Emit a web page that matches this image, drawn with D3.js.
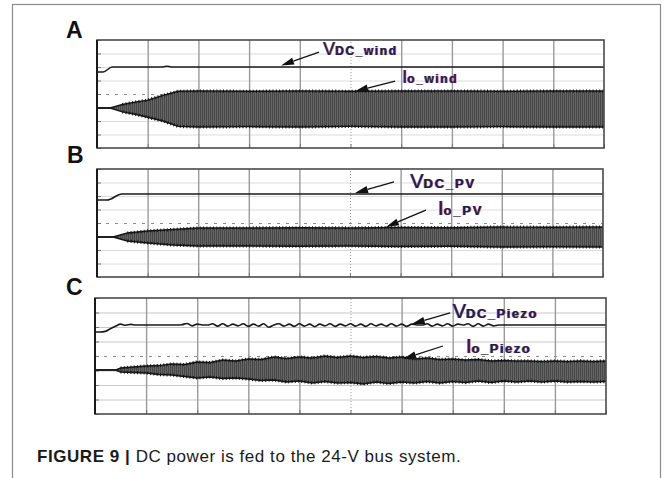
<!DOCTYPE html>
<html>
<head>
<meta charset="utf-8">
<script src="https://cdn.jsdelivr.net/npm/d3@7/dist/d3.min.js"></script>
<style>
  html, body { margin: 0; padding: 0; background: #fff; }
  svg { display: block; }
  .ann { text-shadow: 0.9px 0 rgba(255,122,26,0.85), -0.7px 0 rgba(42,108,255,0.8); }
</style>
</head>
<body>
<svg id="fig" width="664" height="478"></svg>
<script>
// Scope screens: time in divisions (10 across), amplitude in divisions (8 tall, 0 = centre line)
const gridX = [0, 1, 2, 3, 4, 5, 6, 7, 8, 9, 10];
const gridY = [-4, -3, -2, -1, 0, 1, 2, 3, 4];

// A - wind
const vWindT = [0, 0.12, 0.3, 1.3, 1.38, 1.46, 10];
const vWind = [1.63, 1.63, 2.0, 2.0, 2.06, 2.0, 2.0];
const iWindT = [0, 0.26, 0.5, 0.75, 1, 1.3, 1.6, 2, 3, 4, 5, 6, 7, 8, 9, 10];
const iWindHi = [-1.04, -1.04, -0.78, -0.6, -0.45, -0.1, 0.2, 0.22, 0.2, 0.22, 0.2, 0.22, 0.22, 0.2, 0.22, 0.22];
const iWindLo = [-1.04, -1.04, -1.32, -1.5, -1.72, -2.0, -2.4, -2.44, -2.42, -2.44, -2.4, -2.44, -2.44, -2.42, -2.44, -2.44];

// B - PV
const vPvT = [0, 0.2, 0.49, 10];
const vPv = [1.7, 1.7, 2.15, 2.15];
const iPvT = [0, 0.32, 0.6, 1, 1.5, 2, 3, 4, 5, 6, 7, 8, 9, 10];
const iPvHi = [-1.04, -1.04, -0.74, -0.59, -0.48, -0.37, -0.37, -0.35, -0.37, -0.33, -0.35, -0.3, -0.32, -0.3];
const iPvLo = [-1.04, -1.04, -1.33, -1.48, -1.63, -1.7, -1.7, -1.72, -1.7, -1.74, -1.72, -1.78, -1.76, -1.78];

const vPiezoStep = 0.1;
const vPiezo = [
  1.66, 1.66, 1.70, 1.88, 2.05, 2.20, 2.12, 2.18, 2.14, 2.14,
  2.14, 2.14, 2.14, 2.14, 2.14, 2.14, 2.14, 2.16, 2.24, 2.08,
  2.20, 2.14, 2.14, 2.22, 2.06, 2.22, 2.06, 2.20, 2.08, 2.22,
  2.04, 2.20, 2.06, 2.22, 1.98, 2.14, 2.22, 2.06, 2.20, 2.04,
  2.22, 2.06, 2.20, 2.02, 2.20, 2.08, 2.22, 2.04, 2.20, 2.08,
  2.22, 2.06, 2.20, 2.04, 2.22, 2.08, 2.20, 2.06, 2.22, 2.06,
  2.20, 2.04, 2.20, 2.14, 2.14, 2.22, 2.06, 2.20, 2.08, 2.22,
  2.06, 2.20, 2.14, 2.22, 2.04, 2.22, 2.06, 2.20, 2.08, 2.14,
  2.14, 2.14, 2.14, 2.14, 2.14, 2.14, 2.14, 2.14, 2.14, 2.14,
  2.14, 2.14, 2.14, 2.14, 2.14, 2.14, 2.14, 2.14, 2.14, 2.14, 2.14
];
const iPiezoT = [0, 0.4, 0.5, 0.75, 1, 1.25, 1.5, 1.75, 2, 2.25, 2.5, 2.75, 3, 3.25, 3.5, 3.75, 4, 4.25, 4.5, 4.75,
  5, 5.25, 5.5, 5.75, 6, 6.25, 6.5, 6.75, 7, 7.25, 7.5, 7.75, 8, 8.25, 8.5, 8.75, 9, 9.25, 9.5, 9.75, 10];
const iPiezoHi = [-0.97, -0.97, -0.83, -0.76, -0.69, -0.66, -0.55, -0.59, -0.41, -0.45, -0.28, -0.34, -0.21, -0.24,
  -0.07, -0.17, -0.07, -0.14, 0, -0.10, 0, -0.10, -0.03, -0.14, -0.07, -0.21, -0.14, -0.24, -0.21, -0.28,
  -0.24, -0.34, -0.31, -0.34, -0.34, -0.38, -0.34, -0.38, -0.34, -0.38, -0.34];
const iPiezoLo = [-0.97, -0.97, -1.10, -1.14, -1.17, -1.28, -1.31, -1.41, -1.52, -1.45, -1.55, -1.52, -1.59, -1.69,
  -1.66, -1.79, -1.72, -1.86, -1.76, -1.86, -1.83, -1.93, -1.79, -1.90, -1.79, -1.86, -1.76, -1.86, -1.76, -1.83,
  -1.72, -1.83, -1.72, -1.79, -1.72, -1.79, -1.72, -1.79, -1.76, -1.79, -1.76];

// Trace labels: [letter, subscript]
const labelsA = [["V", "DC_wind"], ["I", "o_wind"]];
const labelsB = [["V", "DC_PV"], ["I", "o_PV"]];
const labelsC = [["V", "DC_Piezo"], ["I", "o_Piezo"]];

const svg = d3.select("#fig");
const FONT = "'Liberation Sans', Arial, Helvetica, sans-serif";

// oscillation texture for the dense current waveform
const defs = svg.append("defs");
const pat = defs.append("pattern").attr("id", "osc").attr("patternUnits", "userSpaceOnUse")
  .attr("width", 2).attr("height", 4);
pat.append("rect").attr("width", 2).attr("height", 4).attr("fill", "#656565");
pat.append("rect").attr("width", 1).attr("height", 4).attr("fill", "#484848");

// outer figure border
svg.append("rect")
  .attr("x", 12.5).attr("y", 4.5).attr("width", 648).attr("height", 520)
  .attr("fill", "none").attr("stroke", "#8a8a8a").attr("stroke-width", 1.2);

const panels = [
  { key: "A", box: [97, 604, 40, 148], lab: [66, 38],
    vT: vWindT, v: vWind, iT: iWindT, hi: iWindHi, lo: iWindLo, labels: labelsA, size: [18, 12, 1.6],
    // [text t, text div, tail t, tail div, tip t, tip div]
    ann: [[4.46, 2.89, 4.38, 3.1, 3.63, 2.12], [6.02, 0.81, 5.88, 0.96, 5.09, 0.2]] },
  { key: "B", box: [97, 603, 169, 277], lab: [67, 163],
    vT: vPvT, v: vPv, iT: iPvT, hi: iPvHi, lo: iPvLo, labels: labelsB, size: [20, 13, 1.8],
    ann: [[6.19, 2.59, 5.87, 3.04, 5.1, 2.22], [6.74, 0.59, 6.5, 0.96, 5.71, -0.3]] },
  { key: "C", box: [95, 606, 298, 414], lab: [66, 295],
    vT: vPiezo.map((d, i) => i * vPiezoStep), v: vPiezo, iT: iPiezoT, hi: iPiezoHi, lo: iPiezoLo, labels: labelsC, size: [20, 13, 1.5],
    ann: [[7.0, 2.62, 6.95, 2.97, 6.2, 2.2], [7.26, 0.21, 6.81, 0.69, 6.03, -0.2]] }
];

panels.forEach(p => {
  const [x0, x1, y0, y1] = p.box;
  const x = d3.scaleLinear().domain([0, 10]).range([x0, x1]);
  const y = d3.scaleLinear().domain([-4, 4]).range([y1, y0]);
  const g = svg.append("g");

  // horizontal grid
  g.append("g")
    .attr("transform", `translate(${x0},0)`)
    .call(d3.axisLeft(y).tickValues(gridY.slice(1, -1)).tickSize(-(x1 - x0)).tickFormat(""))
    .call(s => s.select(".domain").remove())
    .selectAll("line")
    .attr("stroke", d => d === 0 ? "#8c8c8c" : (p.key === "C" ? "#c8c8c8" : "#dcdcdc"))
    .attr("stroke-width", d => d === 0 ? 1.2 : 1)
    .attr("stroke-dasharray", d => d === 0 ? "3,6" : null);

  // vertical grid
  g.append("g")
    .attr("transform", `translate(0,${y1})`)
    .call(d3.axisBottom(x).tickValues(gridX.slice(1, -1)).tickSize(-(y1 - y0)).tickFormat(""))
    .call(s => s.select(".domain").remove())
    .selectAll("line")
    .attr("stroke", "#9a9a9a")
    .attr("stroke-width", d => d === 5 ? 1 : 1.4)
    .attr("stroke-dasharray", d => d === 5 ? "1,2" : null);

  // small ticks on the left and bottom edges
  g.append("g")
    .attr("transform", `translate(${x0},0)`)
    .call(d3.axisRight(y).tickValues(gridY).tickSize(4).tickFormat(""))
    .call(s => s.select(".domain").remove())
    .selectAll("line").attr("stroke", "#777");
  g.append("g")
    .attr("transform", `translate(0,${y1})`)
    .call(d3.axisTop(x).tickValues(gridX).tickSize(4).tickFormat(""))
    .call(s => s.select(".domain").remove())
    .selectAll("line").attr("stroke", "#777");

  // current waveform envelope
  const env = p.iT.map((t, i) => ({ t, hi: p.hi[i], lo: p.lo[i] }));
  const area = d3.area().x(d => x(d.t)).y0(d => y(d.lo)).y1(d => y(d.hi));
  g.append("path").datum(env).attr("d", area).attr("fill", "url(#osc)");
  [d => d.hi, d => d.lo].forEach(acc => {
    const ln = d3.line().x(d => x(d.t)).y(d => y(acc(d)));
    g.append("path").datum(env).attr("d", ln)
      .attr("fill", "none").attr("stroke", "#151515").attr("stroke-width", 1.4);
    g.append("path").datum(env.filter(d => d.hi !== d.lo)).attr("d", ln)
      .attr("fill", "none").attr("stroke", "#151515").attr("stroke-width", 3.2)
      .attr("stroke-dasharray", "1,2.3");
  });

  // DC voltage trace
  const vData = p.vT.map((t, i) => ({ t, v: p.v[i] }));
  g.append("path").datum(vData)
    .attr("d", d3.line().x(d => x(d.t)).y(d => y(d.v)).curve(d3.curveMonotoneX))
    .attr("fill", "none").attr("stroke", "#1a1a1a").attr("stroke-width", 1.6);

  // screen frame
  g.append("rect")
    .attr("x", x0).attr("y", y0).attr("width", x1 - x0).attr("height", y1 - y0)
    .attr("fill", "none").attr("stroke", "#4a4a4a").attr("stroke-width", 1.6);
  g.append("line").attr("x1", x0).attr("x2", x0).attr("y1", y0).attr("y2", y1)
    .attr("stroke", "#1a1a1a").attr("stroke-width", 2);

  // panel letter
  svg.append("text")
    .attr("x", p.lab[0]).attr("y", p.lab[1])
    .attr("font-family", FONT).attr("font-weight", "bold").attr("font-size", 23)
    .attr("fill", "#111").text(p.key);

  // annotations with arrows
  p.ann.forEach((a, k) => {
    const [tt, td, at, ad, pt, pd] = a;
    const tx = x(at), ty = y(ad), px = x(pt), py = y(pd);
    const ang = Math.atan2(py - ty, px - tx);
    const hl = 13, hw = 3.6;
    const bx = px - hl * Math.cos(ang), by = py - hl * Math.sin(ang);
    g.append("line").attr("x1", tx).attr("y1", ty).attr("x2", bx).attr("y2", by)
      .attr("stroke", "#111").attr("stroke-width", 1.3);
    g.append("path")
      .attr("d", `M${px},${py}L${bx + hw * Math.sin(ang)},${by - hw * Math.cos(ang)}L${bx - hw * Math.sin(ang)},${by + hw * Math.cos(ang)}Z`)
      .attr("fill", "#111");

    const [big, sub] = p.labels[k];
    const t = g.append("text")
      .attr("class", "ann")
      .attr("x", x(tt)).attr("y", y(td))
      .attr("font-family", FONT).attr("fill", "#1c1c55");
    t.append("tspan").attr("font-size", p.size[0]).text(big);
    t.append("tspan").attr("font-size", p.size[1]).attr("font-weight", "bold")
      .attr("letter-spacing", p.size[2]).text(sub);
  });
});

// caption
const cap = svg.append("text")
  .attr("x", 37).attr("y", 462)
  .attr("font-family", FONT).attr("font-size", 17).attr("letter-spacing", 0.55).attr("fill", "#1a1a1a");
cap.append("tspan").attr("font-weight", "bold").text("FIGURE 9 | ");
cap.append("tspan").text("DC power is fed to the 24-V bus system.");
</script>
</body>
</html>
